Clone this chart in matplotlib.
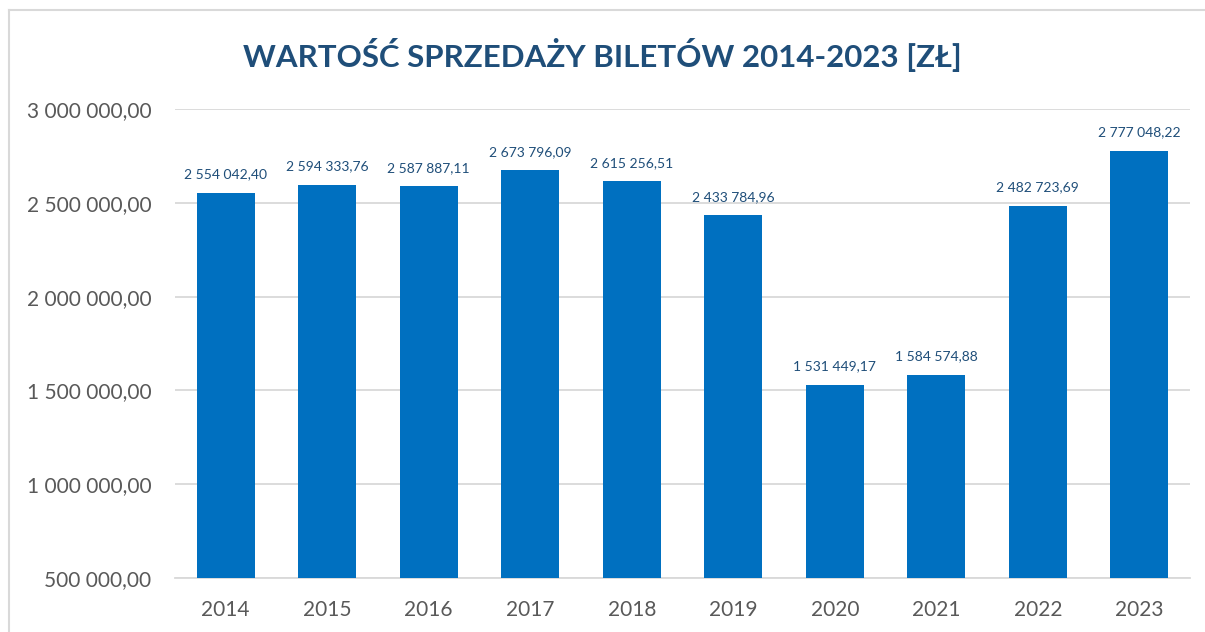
import matplotlib
matplotlib.use("Agg")
import matplotlib.pyplot as plt
from matplotlib.lines import Line2D
from matplotlib.ticker import FuncFormatter

years = ["2014", "2015", "2016", "2017", "2018", "2019", "2020", "2021", "2022", "2023"]
values = [2554042.40, 2594333.76, 2587887.11, 2673796.09, 2615256.51,
          2433784.96, 1531449.17, 1584574.88, 2482723.69, 2777048.22]
yticks = [500000, 1000000, 1500000, 2000000, 2500000, 3000000]

title = "WARTOŚĆ SPRZEDAŻY BILETÓW 2014-2023 [ZŁ]"

bar_color = "#0070C0"
label_color = "#1F4E79"
tick_color = "#595959"
grid_color = "#D9D9D9"

plt.rcParams['font.family'] = ['Lato', 'DejaVu Sans']


def pl_fmt(v, pos=None):
    # polish style: space as thousands separator, comma as decimal
    s = "{:,.2f}".format(v)
    return s.replace(",", " ").replace(".", ",")


fig = plt.figure(figsize=(12.05, 6.32), dpi=100)
ax = fig.add_axes([0.1452, 0.0854, 0.9876 - 0.1452, 0.8275 - 0.0854])

x = range(len(years))
bars = ax.bar(x, values, width=0.57, color=bar_color, zorder=3)

for xi, v in zip(x, values):
    ax.annotate(pl_fmt(v), (xi, v), xytext=(0, 9), textcoords="offset points",
                ha="center", va="bottom", fontsize=10, color=label_color)

ax.set_xlim(-0.5, len(years) - 0.5)
ax.set_ylim(500000, 3000000)
ax.set_yticks(yticks)
ax.yaxis.set_major_formatter(FuncFormatter(pl_fmt))
ax.set_xticks(list(x))
ax.set_xticklabels(years)

ax.grid(axis="y", color=grid_color, linewidth=1.3, zorder=0)
for side in ["left", "right", "top"]:
    ax.spines[side].set_visible(False)
ax.spines["bottom"].set_color(grid_color)
ax.spines["bottom"].set_linewidth(1.3)
ax.tick_params(axis="both", length=0, labelsize=15, labelcolor=tick_color)
ax.tick_params(axis="x", pad=16)
ax.tick_params(axis="y", pad=17)

fig.text(0.5, 0.913, title, ha="center", va="center", fontsize=22.5,
         fontweight="bold", color=label_color)

# chart frame (only top and left edges visible in the crop)
fig.add_artist(Line2D([9 / 1205, 9 / 1205], [0, 1 - 10 / 632], color=grid_color,
                      linewidth=1.5, transform=fig.transFigure))
fig.add_artist(Line2D([9 / 1205, 1], [1 - 10 / 632, 1 - 10 / 632], color=grid_color,
                      linewidth=1.5, transform=fig.transFigure))

fig.savefig("out.png", dpi=100)
